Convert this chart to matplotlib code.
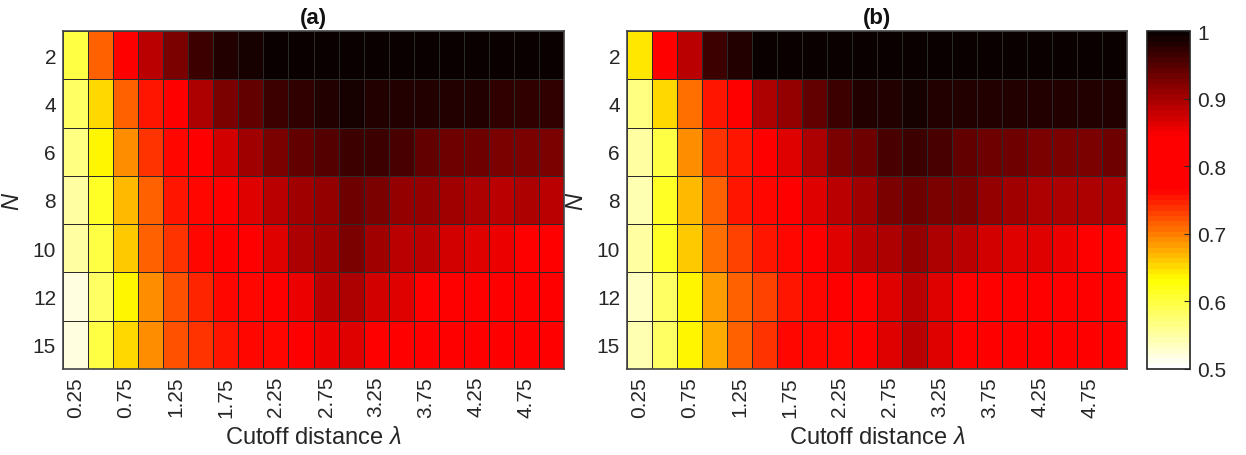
import numpy as np
import matplotlib.pyplot as plt
from matplotlib.colors import LinearSegmentedColormap

plt.rcParams['font.family'] = ['Liberation Sans', 'DejaVu Sans']
plt.rcParams['mathtext.fontset'] = 'custom'
plt.rcParams['mathtext.it'] = 'Liberation Sans:italic'

# cutoff distance lambda and node count N
lambdas = [0.25 * (i + 1) for i in range(20)]
n_values = [2, 4, 6, 8, 10, 12, 15]

# panel (a)
acc_a = [
    [0.595, 0.714, 0.80, 0.885, 0.927, 0.967, 0.984, 0.989, 0.998, 0.998,
     0.998, 0.999, 1.0, 0.999, 0.999, 0.998, 0.999, 0.999, 0.999, 0.998],
    [0.58, 0.653, 0.714, 0.756, 0.79, 0.896, 0.927, 0.944, 0.967, 0.975,
     0.984, 0.99, 0.984, 0.984, 0.98, 0.984, 0.984, 0.975, 0.975, 0.975],
    [0.563, 0.638, 0.689, 0.738, 0.765, 0.79, 0.874, 0.905, 0.922, 0.944,
     0.949, 0.967, 0.962, 0.958, 0.944, 0.936, 0.931, 0.927, 0.927, 0.922],
    [0.547, 0.61, 0.668, 0.714, 0.753, 0.765, 0.79, 0.865, 0.885, 0.90,
     0.914, 0.936, 0.922, 0.909, 0.909, 0.90, 0.896, 0.885, 0.891, 0.883],
    [0.55, 0.60, 0.664, 0.717, 0.735, 0.765, 0.79, 0.79, 0.865, 0.891,
     0.905, 0.922, 0.90, 0.885, 0.883, 0.869, 0.865, 0.852, 0.80, 0.80],
    [0.523, 0.585, 0.639, 0.689, 0.721, 0.746, 0.765, 0.765, 0.79, 0.856,
     0.883, 0.891, 0.874, 0.865, 0.80, 0.80, 0.78, 0.78, 0.78, 0.78],
    [0.522, 0.595, 0.653, 0.689, 0.721, 0.738, 0.756, 0.765, 0.765, 0.79,
     0.856, 0.865, 0.80, 0.78, 0.78, 0.78, 0.78, 0.78, 0.78, 0.78],
]

# panel (b)
acc_b = [
    [0.646, 0.79, 0.885, 0.967, 0.984, 0.993, 0.998, 0.998, 0.998, 0.998,
     0.998, 0.998, 0.998, 0.998, 0.998, 0.998, 0.998, 0.998, 0.998, 0.998],
    [0.565, 0.65, 0.707, 0.756, 0.79, 0.891, 0.914, 0.944, 0.967, 0.98,
     0.984, 0.99, 0.984, 0.984, 0.984, 0.984, 0.98, 0.984, 0.98, 0.984],
    [0.547, 0.60, 0.689, 0.738, 0.756, 0.79, 0.865, 0.896, 0.927, 0.936,
     0.958, 0.967, 0.958, 0.944, 0.936, 0.931, 0.927, 0.927, 0.927, 0.936],
    [0.54, 0.615, 0.668, 0.714, 0.753, 0.765, 0.79, 0.865, 0.885, 0.905,
     0.927, 0.936, 0.927, 0.922, 0.909, 0.905, 0.896, 0.896, 0.891, 0.896],
    [0.547, 0.615, 0.66, 0.71, 0.731, 0.756, 0.765, 0.79, 0.865, 0.883,
     0.896, 0.909, 0.896, 0.885, 0.874, 0.865, 0.861, 0.852, 0.80, 0.80],
    [0.535, 0.58, 0.639, 0.682, 0.714, 0.731, 0.756, 0.765, 0.79, 0.79,
     0.865, 0.883, 0.865, 0.80, 0.78, 0.78, 0.78, 0.78, 0.78, 0.78],
    [0.54, 0.585, 0.639, 0.675, 0.714, 0.742, 0.765, 0.765, 0.765, 0.79,
     0.865, 0.883, 0.865, 0.78, 0.78, 0.78, 0.78, 0.78, 0.78, 0.78],
]

titles = ['(a)', '(b)']
cbar_ticks = [0.5, 0.6, 0.7, 0.8, 0.9, 1.0]
cbar_labels = ['0.5', '0.6', '0.7', '0.8', '0.9', '1']

# white -> yellow -> red (flat) -> near black, as in the reference colorbar
cmap = LinearSegmentedColormap.from_list('heat', [
    (0.0, (1, 1, 1)),
    (0.26, (1, 1, 0)),
    (0.53, (1, 0, 0)),
    (0.69, (1, 0, 0)),
    (1.0, (0.04, 0, 0)),
], N=64)

fig = plt.figure(figsize=(12.46, 4.56), dpi=100)
W, H = 1246, 456
ax_a = fig.add_axes([63 / W, 1 - 370 / H, 501 / W, 338 / H])
ax_b = fig.add_axes([627 / W, 1 - 370 / H, 500 / W, 338 / H])
cax = fig.add_axes([1147 / W, 1 - 370 / H, 43 / W, 338 / H])

txt = '#262626'
for ax, data, title in zip([ax_a, ax_b], [acc_a, acc_b], titles):
    arr = np.array(data)
    mesh = ax.pcolormesh(arr, cmap=cmap, vmin=0.5, vmax=1.0,
                         edgecolors='#2a2a2a', linewidth=0.7)
    ax.set_xlim(0, len(lambdas))
    ax.set_ylim(len(n_values), 0)
    ax.set_xticks(np.arange(0, len(lambdas), 2) + 0.5)
    ax.set_xticklabels(['%.2f' % lambdas[i] for i in range(0, len(lambdas), 2)],
                       rotation=90)
    ax.set_yticks(np.arange(len(n_values)) + 0.5)
    ax.set_yticklabels([str(n) for n in n_values])
    ax.tick_params(length=0, labelsize=15, colors=txt, pad=5)
    for s in ax.spines.values():
        s.set_color('#444444')
        s.set_linewidth(1.2)
    ax.set_title(title, fontsize=16, fontweight='bold', pad=6, color='#111111')
    ax.set_xlabel(r'Cutoff distance $\lambda$', fontsize=17, color=txt, labelpad=7)
    ax.set_ylabel('$N$', fontsize=17, color=txt, labelpad=6)

cb = fig.colorbar(mesh, cax=cax)
cb.set_ticks(cbar_ticks)
cb.set_ticklabels(cbar_labels)
cb.ax.tick_params(labelsize=15, colors=txt, direction='in', length=4, pad=5)
cb.outline.set_linewidth(1.2)
cb.outline.set_edgecolor('#222222')

fig.savefig('out.png', dpi=100)
